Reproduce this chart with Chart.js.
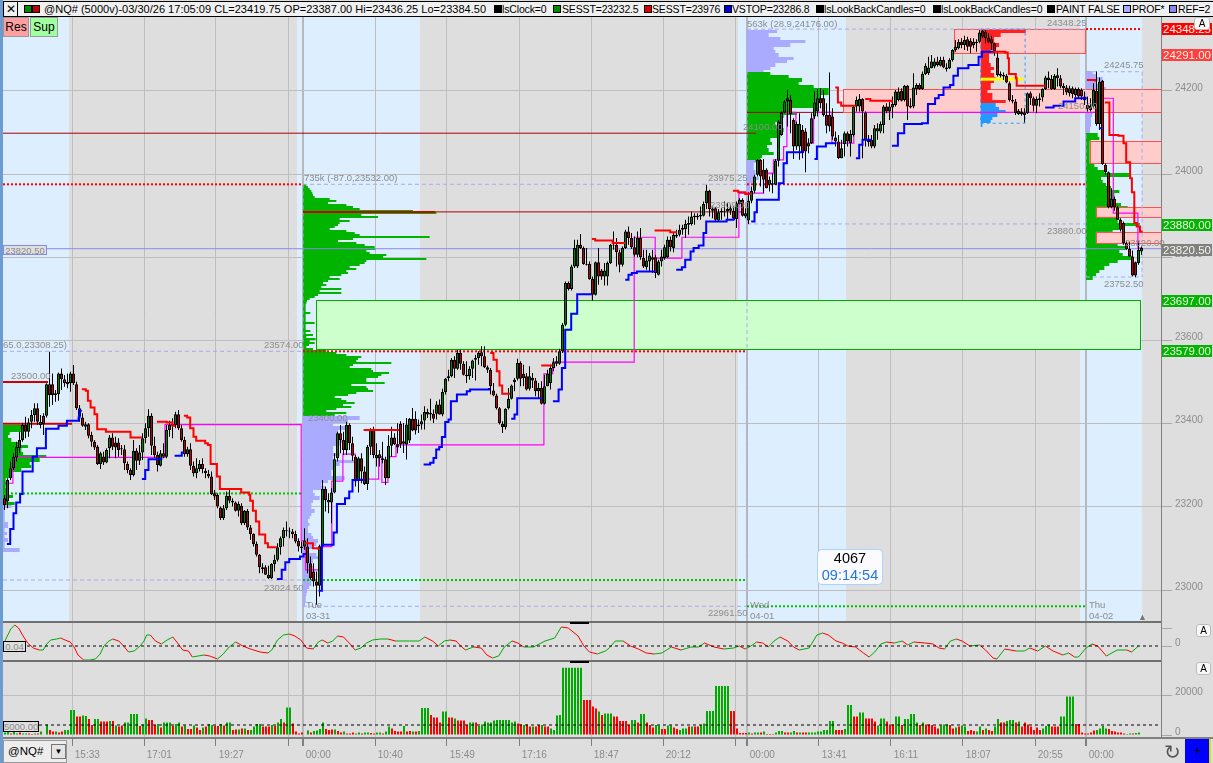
<!DOCTYPE html>
<html><head><meta charset="utf-8">
<style>
html,body{margin:0;padding:0;background:#DEDEDE;width:1213px;height:763px;overflow:hidden;font-family:"Liberation Sans",sans-serif}
canvas{position:absolute;left:0}
.t{position:absolute;white-space:nowrap}
.g{color:#8c8c8c;font-size:9.5px;transform:translateY(-50%);line-height:10px}
.b{position:absolute}
</style>
<script src="https://cdn.jsdelivr.net/npm/chart.js@4/dist/chart.umd.min.js"></script>
</head><body>
<canvas id="mainC" width="1213" height="605" style="top:17px"></canvas>
<canvas id="oscC" width="1213" height="38" style="top:623px"></canvas>
<canvas id="volC" width="1213" height="102" style="top:661px"></canvas>
<div id="ov"></div>
<script>
// ---------- candles ----------
const opens=[23221,23213,23269,23293,23319,23341,23361,23397,23381,23405,
23421,23437,23397,23419,23419,23495,23495,23469,23471,23521,
23507,23501,23497,23521,23495,23437,23415,23393,23399,23373,
23357,23345,23303,23321,23307,23341,23367,23355,23355,23341,
23339,23303,23289,23277,23335,23311,23331,23365,23389,23419,
23347,23325,23299,23329,23321,23385,23395,23397,23423,23389,
23361,23327,23339,23299,23281,23291,23303,23287,23279,23273,
23233,23229,23199,23173,23197,23227,23215,23211,23191,23203,
23161,23191,23151,23135,23111,23085,23051,23055,23037,23029,
23063,23073,23103,23125,23145,23143,23141,23135,23119,23101,
23105,23105,23065,23045,23021,23011,23105,23243,23217,23211,
23235,23317,23377,23361,23337,23397,23353,23321,23263,23317,
23285,23255,23345,23385,23317,23317,23317,23315,23269,23347,
23367,23351,
23400,23352,23350,23360,23412,23412,23394,23398,23408,23428,
23426,23424,23424,23446,23422,23476,23510,23514,23554,23532,
23570,23544,23518,23514,23532,23554,23558,23572,23562,23536,
23530,23480,23468,23437,23400,23392,23437,23460,23500,23508,
23546,23520,23514,23484,23510,23504,23478,23486,23448,23490,
23498,23534,23550,23544,23574,23638,23738,23724,23778,23778,
23830,23822,23784,23784,23748,23710,23788,23768,23754,23754,
23786,23830,23830,23812,23782,23822,23862,23846,23824,23806,
23846,23798,23776,23790,23800,23800,23758,23790,23798,23800,
23842,23822,23850,23854,23866,23868,23878,23880,23896,23900,
23902,23900,23930,23960,23917,23918,23888,23908,23912,23910,
23912,23912,23892,23928,23938,23898,23888,23936,23960,23998,
24034,24010,24010,23974,23978,23974,24032,24094,24148,24182,
24178,24130,24066,24066,24106,24102,24066,24074,24138,24150,
24182,24182,24142,24142,24138,24088,24078,24038,24072,24098,
24074,24094,24162,24162,24180,24148,24082,24082,24066,24102,
24102,24118,24162,24150,24160,24166,24178,24200,24178,24212,
24160,24162,24204,24214,24204,24240,24242,24254,24258,24270,
24260,24274,24256,24254,24274,24298,24302,24318,24310,24324,
24320,24310,24318,24318,24344,24342,24328,24324,24314,24280,
24236,24238,24236,24218,24174,24174,24144,24150,24148,24146,
24194,24182,24164,24178,24184,24204,24232,24228,24204,24237,
24230,24206,24208,24194,24206,24190,24204,24202,24186,24166,
24154,24162,24200,24120,24224,24022,24004,23920,23940,23920,
23890,23882,23834,23820,23802,23788,23786,23814];
const highs=[23229,23269,23309,23329,23357,23381,23401,23417,23413,23433,
23449,23449,23421,23425,23497,23573,23521,23481,23523,23533,
23517,23521,23525,23541,23501,23445,23425,23405,23401,23381,
23361,23349,23333,23333,23341,23373,23377,23369,23365,23349,
23349,23309,23293,23361,23341,23349,23377,23401,23435,23425,
23369,23333,23337,23353,23397,23407,23413,23429,23433,23397,
23369,23345,23353,23309,23317,23313,23317,23293,23289,23285,
23241,23233,23201,23205,23237,23241,23221,23213,23213,23209,
23193,23195,23157,23137,23117,23087,23065,23060,23059,23065,
23085,23113,23129,23151,23165,23151,23147,23143,23125,23117,
23149,23125,23081,23065,23045,23109,23265,23249,23233,23245,
23329,23381,23397,23381,23405,23401,23369,23325,23321,23329,
23297,23349,23389,23393,23353,23337,23357,23321,23373,23393,
23377,23401,
23406,23402,23414,23414,23438,23430,23410,23422,23442,23436,
23460,23434,23454,23458,23484,23510,23530,23558,23562,23578,
23578,23550,23550,23538,23554,23566,23574,23586,23586,23540,
23534,23498,23472,23440,23406,23437,23486,23494,23510,23556,
23550,23542,23522,23538,23522,23510,23498,23502,23518,23530,
23542,23558,23562,23580,23642,23742,23742,23782,23842,23842,
23856,23826,23822,23790,23754,23790,23822,23772,23786,23790,
23832,23862,23846,23818,23826,23866,23874,23858,23850,23862,
23870,23818,23818,23810,23818,23806,23794,23818,23830,23850,
23850,23858,23866,23878,23878,23890,23898,23910,23906,23906,
23922,23934,23974,23962,23922,23920,23916,23918,23934,23930,
23926,23922,23934,23942,23942,23918,23956,23970,23998,24036,
24036,24036,24014,23994,24002,24036,24130,24150,24178,24202,
24190,24134,24126,24146,24118,24110,24086,24146,24198,24204,
24206,24202,24170,24244,24158,24102,24094,24082,24102,24102,
24106,24166,24186,24192,24182,24150,24094,24094,24118,24122,
24126,24166,24170,24174,24186,24202,24208,24206,24214,24214,
24182,24242,24218,24218,24246,24266,24282,24286,24278,24282,
24282,24282,24266,24278,24300,24322,24324,24326,24332,24330,
24326,24326,24324,24346,24346,24346,24338,24332,24316,24294,
24246,24244,24240,24222,24190,24180,24156,24158,24158,24196,
24198,24186,24186,24194,24206,24236,24246,24238,24240,24254,
24238,24218,24214,24212,24210,24208,24208,24206,24198,24186,
24182,24218,24246,24232,24226,24026,24006,23966,23946,23924,
23894,23886,23838,23838,23816,23790,23838,23826];
const lows=[23193,23197,23265,23289,23309,23329,23357,23365,23369,23389,
23405,23397,23389,23373,23415,23441,23445,23453,23455,23481,
23489,23485,23477,23493,23433,23405,23393,23385,23365,23345,
23337,23301,23291,23301,23305,23317,23337,23317,23321,23325,
23289,23281,23265,23273,23289,23301,23313,23353,23369,23325,
23317,23285,23297,23317,23317,23369,23365,23389,23385,23357,
23321,23321,23289,23273,23269,23285,23281,23269,23269,23229,
23217,23197,23169,23169,23193,23209,23201,23189,23177,23157,
23157,23145,23121,23105,23081,23041,23041,23037,23027,23027,
23045,23069,23085,23105,23129,23125,23125,23113,23093,23089,
23097,23041,23025,23009,22965,22985,23101,23189,23185,23161,
23233,23309,23329,23325,23325,23337,23311,23249,23235,23257,
23253,23241,23325,23317,23297,23297,23305,23253,23269,23321,
23349,23329,
23342,23330,23314,23354,23382,23374,23378,23386,23386,23414,
23408,23402,23410,23422,23418,23470,23502,23512,23510,23530,
23530,23516,23498,23506,23510,23504,23542,23538,23534,23522,
23470,23466,23434,23398,23378,23386,23434,23458,23478,23504,
23490,23490,23480,23480,23486,23466,23462,23446,23446,23490,
23482,23526,23538,23542,23570,23634,23720,23720,23774,23774,
23820,23782,23780,23746,23696,23708,23734,23746,23732,23732,
23784,23818,23778,23764,23778,23820,23830,23820,23802,23800,
23794,23774,23770,23766,23762,23750,23756,23778,23794,23798,
23814,23812,23846,23850,23854,23846,23854,23876,23878,23890,
23890,23898,23916,23898,23894,23886,23886,23890,23898,23890,
23902,23890,23870,23926,23898,23894,23880,23930,23954,23994,
23970,23954,23966,23958,23954,23974,24018,24092,24146,24114,
24098,24036,24058,24034,24038,24004,24050,24072,24132,24138,
24158,24138,24098,24102,24082,24066,24036,24038,24042,24066,
24042,24090,24150,24150,24038,24066,24066,24062,24062,24082,
24098,24098,24146,24130,24134,24162,24174,24174,24174,24130,
24158,24158,24190,24202,24202,24238,24238,24254,24254,24258,
24258,24254,24246,24252,24270,24294,24300,24302,24298,24296,
24290,24302,24294,24314,24326,24314,24314,24298,24284,24234,
24232,24226,24218,24174,24170,24142,24142,24140,24124,24144,
24166,24150,24146,24162,24174,24202,24206,24202,24202,24210,
24206,24190,24190,24186,24182,24184,24182,24178,24166,24150,
24150,24158,24116,24106,24022,23998,23918,23918,23912,23890,
23862,23830,23818,23800,23754,23752,23782,23806];
const closes=[23205,23265,23293,23321,23345,23361,23397,23381,23403,23421,
23437,23405,23405,23399,23495,23469,23469,23473,23521,23507,
23497,23495,23521,23497,23437,23417,23395,23399,23371,23357,
23343,23303,23329,23307,23337,23367,23345,23343,23337,23339,
23305,23289,23277,23335,23311,23331,23365,23389,23419,23347,
23325,23301,23329,23321,23385,23397,23399,23423,23389,23361,
23327,23339,23299,23281,23293,23303,23291,23281,23273,23231,
23225,23201,23173,23197,23227,23215,23211,23191,23207,23161,
23191,23151,23135,23111,23085,23055,23055,23037,23029,23063,
23073,23103,23125,23145,23143,23141,23135,23117,23105,23105,
23119,23065,23029,23021,23011,23105,23243,23217,23211,23235,
23315,23377,23361,23337,23397,23353,23323,23261,23317,23285,
23255,23345,23385,23325,23325,23327,23313,23269,23347,23367,
23351,23343,
23350,23358,23398,23412,23384,23384,23398,23406,23428,23422,
23422,23412,23446,23422,23476,23508,23514,23554,23532,23570,
23544,23518,23514,23532,23552,23558,23570,23562,23536,23530,
23490,23468,23437,23402,23392,23436,23460,23492,23506,23546,
23508,23510,23482,23514,23504,23478,23486,23448,23490,23520,
23534,23548,23544,23574,23638,23738,23724,23778,23822,23830,
23822,23784,23782,23748,23710,23788,23754,23754,23768,23786,
23830,23828,23812,23782,23822,23862,23846,23824,23806,23846,
23800,23778,23792,23804,23794,23762,23790,23802,23824,23842,
23824,23854,23854,23866,23870,23880,23882,23898,23900,23896,
23898,23928,23960,23916,23912,23890,23908,23912,23910,23916,
23918,23894,23930,23938,23900,23906,23936,23960,23994,24034,
23994,23986,23966,23986,23974,24032,24126,24148,24174,24174,
24144,24066,24120,24120,24050,24054,24074,24134,24172,24182,
24170,24142,24116,24114,24090,24078,24038,24062,24098,24078,
24096,24162,24178,24180,24150,24082,24076,24066,24110,24110,
24120,24162,24150,24162,24168,24198,24198,24176,24212,24162,
24164,24208,24214,24204,24240,24260,24256,24270,24270,24262,
24274,24256,24252,24274,24298,24306,24318,24310,24322,24306,
24306,24318,24314,24340,24330,24326,24318,24314,24294,24238,
24240,24234,24220,24178,24178,24146,24152,24144,24142,24194,
24182,24164,24180,24182,24204,24232,24226,24204,24236,24230,
24210,24212,24196,24206,24192,24204,24186,24186,24178,24156,
24164,24202,24120,24222,24024,24004,23920,23940,23920,23890,
23866,23834,23820,23802,23756,23756,23818,23822];
// ---------- volume ----------
const volumes=[1300,1700,800,2000,800,1200,800,800,800,500,
800,800,1700,300,5300,2500,1700,1700,1200,1700,
2500,2500,12500,12500,9200,9200,9700,9500,8000,5000,
8000,8000,6700,6700,6700,7000,7000,4700,4200,4700,
6200,6300,10500,10500,10500,4500,5300,8300,7500,7500,
5000,5500,3700,6200,6200,6200,4500,5500,6200,4200,
4700,3000,3000,4700,3700,2500,3700,4200,5500,5000,
4500,4500,5500,4700,6200,6200,2500,2800,2800,3300,
3300,2500,2500,4200,5500,5500,4200,4200,4200,5000,
4500,6200,8000,6200,13700,13700,5800,1700,800,1200,
300,2300,1200,2000,2200,3000,6300,3000,2500,2800,
2800,2000,1300,1700,800,800,1200,800,1200,800,
1200,1300,1000,800,1200,1200,800,1700,4200,3300,
2000,1700,1700,4500,1700,2000,1800,1700,2000,13500,
13500,13500,10000,8700,8700,6200,11700,11700,8700,8700,
8300,7200,7200,7200,5000,6300,6300,6200,4500,5300,
6700,6300,6300,7300,7500,7500,7500,7500,7500,6300,
6700,5800,5300,5000,5300,4200,4200,4200,5000,5000,
4200,4200,3300,2500,9700,10000,33600,33600,33600,33600,
33600,33600,33600,17500,17500,17500,14200,13300,11700,10000,
10800,10800,10800,9200,9200,7000,7000,7000,5000,7500,7500,
6300,10500,10500,6200,5000,3700,5000,4700,3000,3000,
4700,4700,3700,3000,2500,3300,3300,4200,4200,4200,
4200,5000,5800,12000,12000,12000,24500,24500,24500,24500,
24500,12000,12000,3300,1000,1000,1000,1300,700,1200,
1200,1200,1700,500,500,500,1300,2000,2000,1200,
1200,1300,2000,1300,1300,1200,1200,1300,1300,1300,
1700,1700,2500,2500,7000,7000,2500,2500,2500,3000,
15000,15000,9200,9200,11300,11300,8300,8300,8300,6700,
4700,8300,8300,6700,5300,5300,9200,9200,5000,8000,
8000,10500,10500,6300,5000,6300,5300,5300,5000,4200,
3300,4700,5300,5300,5000,3300,3700,4200,4700,4200,2000,
2500,2000,1700,4200,2500,3300,2500,2000,4200,8000,
6200,6200,7000,7500,7500,6300,6700,4200,6300,5300,
4200,2500,3700,2500,3300,4500,5300,4200,4200,4200,
9200,9200,19200,19200,19200,5500,5500,1300,800,700,
1200,2200,2500,3300,4500,3300,3000,2000,1700,1200,
1300,800,500,700,700,1000,1200,300];
const volumeDir=("ggrggrggrr"+"grgrgrrgrr"+"ggggrrggrr"+"ggrrrgrgrr"+"gggggrggrr"+"rgrgggrggr"+"grrgrrgrgg"+"rrgrggrrgr"+"grggggrrrg"+"rggrggrrrr"+
"rgrggggrrr"+"grrgrrrggr"+"ggrrggrggr"+"rrrgrrgrgg"+"ggrrrrggrr"+"grrrrggrgg"+"gggggggggg"+"grrgrrgrrg"+"rrgggggggg"+"gggrrrrrgr"+
"gggrrrrrrgg"+"rggrrrggrr"+"ggrrgggrgr"+"rggggggggg"+"grrrrrrgrg"+"grgrrrgggr"+"rggrgrrggg"+"ggggggrrrg"+"ggrrggrrrr"+"gggrrrggrg"+
"ggggrgrrrr"+"rgggrrgrggr"+"rrggrgrrgg"+"rrgggrgrrr"+"rrrrgggrrr"+"gggggrrrrr"+"rrggggrrrr"+"rrggrggr");
// ---------- oscillator ----------
const oscBars=[0,1.1,2.6,3.9,5.2,6.5,8.2,10.1,12.1,13.4,14.6,15.9,17.9,19.2,20.7,22.4,23.7,25,26.9,28.9,30.8,32.4,33.6,35.3,36.6,38.6,40.5,41.8,43.7,45.7,47,47.9,49.1,50.8,52.8,54.7,56.6,58.2,59.9,61.8,63.1,65,67,68.9,71.5,73.4,75.4,77.6,79.9,82.5,85.7,88.3,89.6,91.5,93.5,95.4,97.3,99.3,101.2,103.4,105.1,106.4,108.3,109.9,111.5,113.5,115.4,117.4,119.3,121.2,123.2,125.8,128.3,130.9,135.5,138.7,140.6,143.2,145.1,147.1,149,151,152.9,154.2,156.8,159.4,161.3,163.2,165.2,167.1,169.7,171.6,173.6,176.8,180.7,183.9,186.1,188.4,191.7,193.6,195.5,198.1,200.8,202.1,204.1,206.7,209.2,211.8,214.4,217,219.6,222.8,226,229.3,231.9,233.8,237,240.3,243.5,245.4,247.4,249.3,251.2,253.2,255.1,257,259,261.6,263.5,265.4,268.7,271.3,273.2,275.1,277.7,279.7,281.6,284.2,286.8,288.7,290.6,292.6,294.5,297.1,299.7,301.6,303.6,307.4,310,312,313.9,315.8,317.8,319.7,322.3,325.5,327.5,330,331.3,333.9,337.8,340.4,342.3,344.9,347.5,350,353.3,355.2,357.2,358.5,361,363,364.9,367.8,371.4,374.6,376.2,378.5];
const oscValues=[0,.08,.17,.21,.18,.11,.03,-.02,-.04,-.04,.02,.06,.07,.08,.06,.04,-.01,-.09,-.14,-.14,-.13,-.08,0,.05,.07,.05,-.01,-.06,-.05,0,.05,.11,.11,.05,.02,.06,.09,.03,-.04,-.05,-.11,-.10,-.09,-.10,-.13,-.08,-.01,.04,0,-.03,-.06,-.07,-.04,.06,.11,.12,.10,.06,-.02,-.03,.04,.06,.03,.05,.10,.09,.03,-.04,-.02,.03,.06,.07,.07,.05,.05,.05,.09,.05,0,.05,.06,.05,-.01,-.04,-.01,-.02,-.09,-.12,-.10,-.01,.05,.03,-.01,-.01,.05,.08,.19,.18,.10,0,-.06,-.08,-.05,-.02,.05,.05,0,-.03,-.07,-.08,-.07,-.01,-.04,-.01,-.01,.03,-.01,-.03,-.02,0,-.03,0,.04,.03,-.01,.05,.09,.05,-.01,-.04,-.02,.11,.13,.11,.05,.03,0,-.01,-.07,-.11,-.06,.02,.04,.03,.05,.01,.04,.03,.02,-.02,-.03,.05,.07,.05,0,.01,-.04,-.12,-.13,-.03,-.05,-.05,-.02,-.05,0,-.05,-.09,-.07,-.11,-.11,-.02,.02,0,-.10,-.04,-.04,-.06,0];
// ---------- axes ----------
const priceTicks=[24200,24000,23800,23600,23400,23200,23000];
const gridBars=[23,47,71,95,100,124,148,172,196,220,244,248,272,296,320,344,361];
const timeLabels=["15:33","17:01","19:27","","00:00","10:40","15:49","17:16","18:47","20:12","","00:00","13:41","16:11","18:07","20:55","00:00"];
const sessionBars=[100,248,361];
const sessionBands=[[0,22],[98,139],[245,281],[359,379.7]];
// ---------- stop lines ----------
const redStopSegments=[
[[26.3,23483],[27.6,23479],[28.3,23455],[29.2,23439],[30.5,23423],[31.4,23387],[34.3,23381],[42.5,23367],[46.3,23367]],
[[51.3,23405],[54.6,23403],[56.5,23395],[57.4,23395]],
[[60.3,23419],[61.4,23415],[62.4,23389],[63.5,23369],[64.4,23359],[67.4,23353],[68.3,23349],[69.2,23303],[71.3,23273],[72.3,23243],[79.4,23235],[82.1,23229],[82.4,23215],[83.3,23191],[84.3,23165],[85.4,23134],[87.4,23113],[88.3,23103],[91.3,23103]],
[[100.7,23113],[103.3,23101],[105.2,23097]],
[[120.2,23385],[132,23385]],
[[162.4,23570],[163.5,23554],[164.6,23526],[165.5,23492],[166.4,23472],[169.1,23472]],
[[179.4,23540],[183.2,23540]],
[[196.3,23844],[197.4,23840],[203.2,23834],[207.4,23834]],
[[217.2,23864],[222.4,23860],[224.4,23858]],
[[243.3,23960],[245.1,23956],[247.4,23952],[249.6,23952]],
[[277.4,24208],[278.3,24172],[279.4,24164],[284.3,24164]],
[[287.4,24180],[289.1,24176],[296.3,24172]],
[[330,24294],[334.1,24292],[334.9,24278],[335.3,24240],[337.6,24230],[337.9,24212],[347.4,24210]],
[[361.3,24226],[364,24222]],
[[367.3,24172],[368.8,24094],[371.8,24092],[373.5,24074],[374.4,24028],[375.7,23990],[376.3,23956],[377.1,23882],[377.9,23874],[379,23862],[379.9,23862]]];
const vstopSegments=[
[[1.3,23111],[2.4,23147],[3.5,23185],[4.4,23211],[5.7,23231],[6.5,23285],[9.9,23321],[11.3,23341],[14.3,23388],[18.5,23395],[21.3,23407],[25.2,23415],[25.5,23431],[26.3,23431]],
[[46.3,23267],[47.4,23289],[48.5,23315],[53.1,23315]],
[[57.2,23323],[59.6,23331],[60.3,23331]],
[[91.3,23027],[92.9,23049],[94.1,23067],[95.4,23075],[99,23081],[100.2,23087],[101,23087]],
[[105.2,22999],[106.3,23109],[110.2,23139],[111.3,23207],[114,23221],[115.4,23237],[116.5,23265],[120.7,23265]],
[[140.2,23302],[142.4,23306],[143.5,23318],[144.4,23338],[145.4,23344],[146.3,23368],[147.4,23404],[148.5,23410],[149.3,23454],[151.3,23470],[154.6,23478],[155.7,23482],[162,23486]],
[[169.4,23412],[170.5,23422],[171.4,23461],[179.6,23461]],
[[183.3,23454],[185.2,23482],[186.3,23534],[187.4,23626],[189.4,23664],[191.4,23711],[196.3,23711]],
[[207.4,23746],[208.5,23758],[209.6,23762],[211.3,23766],[217.4,23766]],
[[224.4,23770],[226.3,23776],[227.4,23794],[229.2,23814],[230.2,23822],[231.9,23828],[233.5,23858],[234.4,23886],[241.2,23890],[243.5,23892],[244,23892]],
[[249.4,23886],[250.5,23908],[251.3,23938],[258.6,23978],[260.2,24026],[261.3,24052],[266.3,24054],[267,24054]],
[[270.5,24036],[271.3,24066],[274.3,24074],[277.4,24076]],
[[284.3,24038],[285.4,24070],[286.5,24082],[289.6,24082]],
[[296.3,24068],[298.3,24098],[300.4,24120],[306.3,24122],[308.3,24168],[310.7,24182],[311.9,24190],[313.5,24208],[315.7,24214],[316.8,24236],[318.3,24254],[321.8,24262],[325.2,24282],[326.3,24294],[330.5,24294]],
[[347.4,24160],[350.2,24164],[353.5,24174],[357.4,24182],[361.3,24182]],
[[365.3,24110],[366.4,24110]]];
const pocSteps=[[0.5,23257],[3.3,23293],[4,23319],[54,23398],[99.4,23119],[100.9,23049],[105.2,23105],[109.6,23262],[113.3,23327],[117.4,23267],[125.2,23321],[126.3,23259],[128.3,23321],[131,23349],[180.3,23520],[183.2,23548],[210.4,23848],[217.4,23798],[226.3,23848],[245.3,23954],[253.5,24002],[256.8,24034],[260.2,24066],[261.3,24148],[264.3,24098],[266.3,24074],[270.2,24148],[276.3,24074],[283.6,24148],[366.2,24182],[370.1,23906],[378.3,23822],[379.5,23822]];
// ---------- levels: [fromBar,toBar,price] ----------
const dottedRedLevels=[[0,100,23975.25],[248,361,23975.25],[100,248,23574],[361,379.7,24348.25]];
const dottedGreenLevels=[[0,100,23232.5],[100,248,23024.5],[248,361,22961.5],[361,379.7,23880]];
const dashedLavLevels=[[0,100,23574],[0,100,23024.5],[100,248,23975.25],[100,248,22961.5],[248,361,24348.25],[248,361,23880],[361,379.7,24245.75],[361,379.7,23752.5]];
const dashedLavVerticals=[[100,23975.25,22961.5],[248,24348.25,22961.5],[361,24245.75,23752.5],[379.7,24245.75,23752.5]];
const thinRedLevels=[[0,251,24098],[144,247,23909],[248,280,24148]];
const thickRedLevels=[[0,15,23500],[0,23,23400],[100,144,23909]];
const lastPrice=23820.5;
// ---------- zones ----------
const supplyZones=[[317,360.8,24348.25,24291],[280,386,24204,24148],[362.2,386,24080,24026],[364.3,386,23921,23897],[364.3,386,23861,23834]];
const demandZones=[[104.2,379,23697,23579]];
// ---------- volume profiles ----------
const profileTue=[10,15,20,25,28,30,35,80,100,75,130,150,170,330,400,175,225,110,140,110,105,95,80,130,155,170,380,150,105,160,185,215,217,190,200,250,240,370,190,185,170,140,160,130,135,115,80,110,75,60,70,55,115,50,115,45,35,20,12,10,8,8,8,8,22,8,8,8,8,35,8,8,8,22,8,30,10,55,20,35,18,10,30,70,100,130,175,165,160,265,150,140,205,210,258,235,225,190,190,245,145,190,195,210,160,135,95,115,130,155,120,145,100,70,130,95,110];
const profileTueLow=[170,135,90,135,105,100,100,125,110,90,90,110,90,160,110,95,85,85,125,75,55,65,30,35,50,30,25,25,35,25,20,15,20,15,15,25,30,45,40,30,15,40,45,30,25,30,35,30,20,25,25,18,12,10,8,8,6];
const profileMonHi=[65,55,20,15,25,50,75,55,60,130,110,80,85,55,25,20,8,15,8,15,10,30,15,35];
const profileMonLow=[25,5,5,5,5,15,15,5,12,5,15,5,5,50];
const profileWedTop=[90,65,100,175,130,80,85,95,140,120,85,70,50];
const profileWedMid=[70,125,165,155,200,245,245,220,230,210,200,130,150,110,100,85,90,110,105,100,70,75,60,65,80,45,40];
const profileWedLow=[25,20,20,25,25,35,20,10,10,8];
const profileThuTop=[20,30,50,30,40,60,130,145,105,100,60,30,20,18,15,15,15,12,12];
const profileThuMid=[35,40,15,15,30,25,30,25,30,25,35,55,130,45,50,60,75,100,85,85,90,105,125,80,100,100,95,160,100,80,40,45,60,95,120,100,110,140,95,70,55,40,30,20];
const profileHotRed=[135,60,40,40,55,40,30,25,25,25,30,40,30,40,45,40,30,30,20,35,35,75];
const profileHotBlue=[45,55,75,50,35,30,5];
const yellowLevel=[325.9,340,24229];
const compositeBox=[325.9,340.7,24348.25,24122];
// ---------- text ----------
const headerText="@NQ# (5000v)-03/30/26 17:05:09 CL=23419.75 OP=23387.00 Hi=23436.25 Lo=23384.50";
const legendItems=[[494,"#000","lsClock=0",502],[553,"#008800","SESST=23232.5",562],[644,"#DD0000","SESST=23976",652],[724,"#0000DD","VSTOP=23286.8",732],[816,"#000","lsLookBackCandles=0",824],[933,"#000","lsLookBackCandles=0",941],[1047,"#000","PAINT FALSE",1056],[1123,"#AAAAFF","PROF*",1132],[1169,"#8888EE","REF=2",1178]];
const grayLabels=[[304,178,"735k (-87.0,23532.00)"],[747,24,"563k (28.9,24176.00)"],[3,345,"65.0,23308.25)"],[264,345,"23574.00"],[11,376,"23500.00"],[308,418,"23400.00"],[264,588,"23024.50"],[708,613,"22961.50"],[708,178,"23975.25"],[1047,23,"24348.25"],[1104,65,"24245.75"],[1047,231,"23880.00"],[1104,284,"23752.50"],[1058,106,"24150.00"],[743,127,"24100.00"],[710,205,"23909.00"],[1125,243,"23820.00"],[306,605,"Tue"],[306,616,"03-31"],[750,605,"Wed"],[750,616,"04-01"],[1089,605,"Thu"],[1089,616,"04-02"]];
const priceFlags=[[23,"24348.25","#FF0000"],[49,"24291.00","#FF4040"],[219,"23880.00","#00B400"],[244,"23820.50","#808080"],[295,"23697.00","#00B400"],[345,"23579.00","#00B400"]];

const PROFILE_UNIT=1/9, XMAX=386;
const GREEN_P="#00B400", LAV="#AAAAFF";

function rowsDraw(c,xs,ys,base,top,step,vals,col){
  c.fillStyle=col;
  vals.forEach((v,i)=>{
    const y0=ys.getPixelForValue(top-i*step), y1=ys.getPixelForValue(top-(i+1)*step);
    const x0=xs.getPixelForValue(base), x1=xs.getPixelForValue(base+v*PROFILE_UNIT);
    c.fillRect(x0,Math.round(y0),x1-x0,Math.max(1,Math.round(y1)-Math.round(y0)));
  });
}
const bandPlugin={id:"bands",beforeDraw(ch){
  const {ctx:c,chartArea:a,scales:{x}}=ch;
  c.save();c.fillStyle="#DEDEDE";c.fillRect(a.left,a.top,a.right-a.left,a.bottom-a.top);
  if(ch.canvas.id==="mainC"){c.fillStyle="#DDEEFF";
    sessionBands.forEach(b=>{const l=x.getPixelForValue(b[0]),r=x.getPixelForValue(b[1]);c.fillRect(l,a.top,r-l,a.bottom-a.top);});}
  c.restore();
}};
const zonePlugin={id:"zones",beforeDatasetsDraw(ch){
  if(ch.canvas.id!=="mainC")return;
  const {ctx:c,scales:{x,y}}=ch;
  c.save();
  const box=(b,f,s)=>{const l=x.getPixelForValue(b[0]),r=x.getPixelForValue(b[1]),t=y.getPixelForValue(b[2]),bt=y.getPixelForValue(b[3]);
    c.fillStyle=f;c.fillRect(l,t,r-l,bt-t);c.strokeStyle=s;c.lineWidth=1;c.strokeRect(Math.round(l)+.5,Math.round(t)+.5,Math.round(r-l),Math.round(bt-t));};
  rowsDraw(c,x,y,100,23975.25,4.8,profileTue,GREEN_P);
  rowsDraw(c,x,y,100,23418,8,profileTueLow,LAV);
  rowsDraw(c,x,y,0,23397,8,profileMonHi,GREEN_P);
  rowsDraw(c,x,y,0,23205,8,profileMonLow,LAV);
  rowsDraw(c,x,y,248,24346,8,profileWedTop,LAV);
  rowsDraw(c,x,y,248,24246,8,profileWedMid,GREEN_P);
  rowsDraw(c,x,y,248,24034,8,profileWedLow,LAV);
  rowsDraw(c,x,y,361,24248,8,profileThuTop,LAV);
  rowsDraw(c,x,y,361,24098,8,profileThuMid,GREEN_P);
  demandZones.forEach(b=>box(b,"#CCFFCC","#00AA00"));
  supplyZones.forEach(b=>box(b,"#FFCCCC","#FF5050"));
  rowsDraw(c,x,y,325.9,24346,8,profileHotRed,"#FF2020");
  rowsDraw(c,x,y,325.9,24170,8,profileHotBlue,"#2299FF");
  c.fillStyle="#FFFF00";
  const yl=y.getPixelForValue(yellowLevel[2]);
  c.fillRect(x.getPixelForValue(yellowLevel[0]),yl-1,x.getPixelForValue(yellowLevel[1])-x.getPixelForValue(yellowLevel[0]),3);
  c.strokeStyle="#3399FF";c.setLineDash([3,3]);c.lineWidth=1;
  const cl=x.getPixelForValue(compositeBox[0]),cr=x.getPixelForValue(compositeBox[1]),ct=y.getPixelForValue(compositeBox[2]),cb=y.getPixelForValue(compositeBox[3]);
  c.strokeRect(cl,ct,cr-cl,cb-ct);
  c.restore();
}};
const zeroPad=s=>{s.paddingTop=0;s.paddingBottom=0;s.paddingLeft=0;s.paddingRight=0;s._margins={left:0,right:0,top:0,bottom:0};};
const seg=(pts,col,w,order,extra)=>Object.assign({type:"line",data:pts.map(p=>({x:p[0],y:p[1]})),borderColor:col,borderWidth:w,pointRadius:0,order,tension:0,fill:false},extra||{});
const lvl=(l,col,w,order,dash)=>seg([[l[0],l[2]],[l[1],l[2]]],col,w,order,dash?{borderDash:dash}:{});
const xScale=(show)=>({type:"linear",min:0,max:XMAX,offset:false,
  afterBuildTicks(s){s.ticks=gridBars.map(v=>({value:v}));},
  grid:{offset:false,drawTicks:show,tickLength:8,tickColor:"#808080",
    color:c=>sessionBars.includes(c.tick&&c.tick.value)?"#B8B8B8":"#BEBEBE",
    lineWidth:c=>sessionBars.includes(c.tick&&c.tick.value)?2:1},
  border:{display:false},
  afterFit(s){s.height=show?25:0;zeroPad(s);},
  ticks:{display:show,autoSkip:false,maxRotation:0,minRotation:0,align:"start",padding:3,color:"#8c8c8c",font:{family:"Liberation Sans",size:10},
    callback:(v,i)=>"\u00a0"+timeLabels[i]}});
const yScale=(min,max,vals,fmt,gridOn)=>({type:"linear",position:"right",min,max,
  afterBuildTicks(s){s.ticks=vals.map(v=>({value:v}));},
  afterFit(s){s.width=52;zeroPad(s);},
  border:{display:false},
  grid:{drawOnChartArea:!!gridOn,tickLength:11,tickColor:"#A8A8A8",color:c=>(c.tick&&c.tick.value===0&&gridOn==="vol")?"transparent":"#BEBEBE"},
  ticks:{padding:3,labelOffset:-3,color:"#8c8c8c",font:{family:"Liberation Sans",size:10},callback:fmt}});
const baseOpts=()=>({responsive:false,animation:false,events:[],maintainAspectRatio:false,
  layout:{autoPadding:false,padding:{left:3,right:0,top:0,bottom:0}},
  plugins:{legend:{display:false},tooltip:{enabled:false}}});

// main chart
const mainDS=[];
const cols=closes.map((c,i)=>c>=opens[i]?"#008000":"#C00000");
mainDS.push({type:"bar",data:closes.map((c,i)=>({x:i+.5,y:[opens[i],c]})),backgroundColor:cols,borderColor:"#000",borderWidth:1,borderSkipped:false,barThickness:3,grouped:false,inflateAmount:0,order:4});
mainDS.push({type:"bar",data:closes.map((c,i)=>({x:i+.5,y:[lows[i],highs[i]]})),backgroundColor:"#000",borderWidth:0,barThickness:1,grouped:false,inflateAmount:0,order:5});
redStopSegments.forEach(s=>mainDS.push(seg(s,"#FF0000",2,3,{stepped:true})));
vstopSegments.forEach(s=>mainDS.push(seg(s,"#0000FF",2,3,{stepped:true})));
mainDS.push(seg(pocSteps,"#FF00FF",1.2,6,{stepped:true}));
thinRedLevels.forEach(l=>mainDS.push(lvl(l,"#A80000",1,7)));
thickRedLevels.forEach(l=>mainDS.push(lvl(l,"#D00000",2,7)));
dottedRedLevels.forEach(l=>mainDS.push(lvl(l,"#FF0000",2,8,[2,2])));
dottedGreenLevels.forEach(l=>mainDS.push(lvl(l,"#00C000",2,8,[2,2])));
dashedLavLevels.forEach(l=>mainDS.push(lvl(l,"#AAAAEE",1,9,[4,3])));
dashedLavVerticals.forEach(v=>mainDS.push(seg([[v[0],v[1]],[v[0],v[2]]],"#AAAAEE",1,9,{borderDash:[4,3]})));
mainDS.push(lvl([0,XMAX,lastPrice],"#8888EE",1,7));
new Chart(document.getElementById("mainC"),{type:"bar",data:{datasets:mainDS},plugins:[bandPlugin,zonePlugin],options:Object.assign(baseOpts(),{
  scales:{x:xScale(false),y:yScale(22923.7,24377.2,priceTicks,v=>String(v),true)}})});

// oscillator
const oscDS=[seg(oscBars.map((b,i)=>[b,oscValues[i]]),"#00AA00",1,2,{segment:{borderColor:c=>c.p1.parsed.y>=c.p0.parsed.y?"#00AA00":"#FF0000"}}),
  lvl([0,XMAX,0],"#000",1.2,1,[3,3])];
new Chart(document.getElementById("oscC"),{type:"line",data:{datasets:oscDS},plugins:[bandPlugin],options:Object.assign(baseOpts(),{
  scales:{x:xScale(false),y:yScale(-.15,.23,[.18,0],v=>v===0?"0":"",false)}})});

// volume
const volCols=volumes.map((v,i)=>volumeDir[i]==="g"?"#00AA00":"#FF0000");
const volDS=[lvl([0,XMAX,5000],"#000",1.2,1,[3,3]),
  {type:"bar",data:volumes.map((v,i)=>({x:i+2/3,y:v})),backgroundColor:volCols,barThickness:2,borderWidth:0,grouped:false,inflateAmount:0,order:2}];
new Chart(document.getElementById("volC"),{type:"bar",data:{datasets:volDS},plugins:[bandPlugin],options:Object.assign(baseOpts(),{
  scales:{x:xScale(true),y:yScale(-1500,37000,[20000,0],v=>String(v),"vol")}})});

// overlay
const ov=document.getElementById("ov");
function el(cls,st,txt){const d=document.createElement("div");d.className=cls;d.style.cssText=st;if(txt!==undefined)d.textContent=txt;ov.appendChild(d);return d;}
el("b","left:0;top:0;width:3px;height:763px;background:#6C9BD0");
el("b","left:3px;top:1px;width:1210px;height:14px;background:#F0F0F0;border-top:1px solid #000;border-bottom:1px solid #000");
el("b","left:3px;top:1px;width:13px;height:14px;border:1px solid #000;background:#F0F0F0;text-align:center;font-size:12px;line-height:14px","✕");
el("b","left:24px;top:5px;width:6px;height:6px;background:#008800;border:1px solid #000");
el("b","left:32px;top:5px;width:6px;height:6px;background:#BB0000;border:1px solid #000");
el("t","left:44px;top:2px;font-size:11px;line-height:14px;color:#000;letter-spacing:.02px",headerText);
legendItems.forEach(l=>{
  el("b",`left:${l[0]}px;top:5px;width:6px;height:6px;background:${l[1]};border:1px solid #000`);
  el("t",`left:${l[3]}px;top:2px;font-size:10.5px;line-height:14px;color:#000;letter-spacing:-.15px`,l[2]);
});
el("b","left:3px;top:17px;width:26px;height:20px;background:#FFA0A0;border:1px solid #999;box-sizing:border-box;font-size:12px;text-align:center;line-height:19px","Res");
el("b","left:30px;top:17px;width:28px;height:20px;background:#A0FFA0;border:1px solid #999;box-sizing:border-box;font-size:12px;text-align:center;line-height:19px","Sup");
grayLabels.forEach(g=>el("t g",`left:${g[0]}px;top:${g[1]}px`,g[2]));
el("b","left:3px;top:245px;width:44px;height:10px;background:#DEDEDE;border:1px solid #8888EE;box-sizing:border-box;font-size:9.5px;line-height:9px;color:#8c8c8c;text-align:center","23820.50");
el("b","left:3px;top:641px;width:23px;height:11px;background:#DEDEDE;border:1px solid #000;box-sizing:border-box;font-size:9.5px;line-height:9px;color:#8c8c8c;text-align:center","0.04");
el("b","left:3px;top:721px;width:36px;height:11px;background:#DEDEDE;border:1px solid #000;box-sizing:border-box;font-size:9.5px;line-height:9px;color:#8c8c8c;text-align:center","5000.00");
el("b","left:1161px;top:17px;width:1px;height:721px;background:#808080");
priceFlags.forEach(f=>el("b",`left:1162px;top:${f[0]}px;width:50px;height:12px;background:${f[2]};color:#F4F4E8;font-size:11.5px;line-height:12px;text-align:center`,f[1]));
el("b","left:1194px;top:17px;width:16px;height:13px;background:#F8F8F8;border:1px solid #BBB;border-radius:3px;box-sizing:border-box;font-size:10px;line-height:11px;text-align:center","A");
el("b","left:1196px;top:624px;width:15px;height:13px;background:#F8F8F8;border:1px solid #BBB;border-radius:3px;box-sizing:border-box;font-size:10px;line-height:11px;text-align:center","A");
el("b","left:1196px;top:662px;width:15px;height:13px;background:#F8F8F8;border:1px solid #BBB;border-radius:3px;box-sizing:border-box;font-size:10px;line-height:11px;text-align:center","A");
el("b","left:3px;top:621px;width:1158px;height:2px;background:#707070");
el("b","left:3px;top:660px;width:1158px;height:2px;background:#707070");
el("b","left:3px;top:737px;width:1210px;height:2px;background:#808080");
el("b","left:570px;top:622px;width:19px;height:2px;background:#000");
el("b","left:570px;top:661px;width:19px;height:2px;background:#000");
el("t","left:1138px;top:612px;font-size:9px;color:#777","▲");
// clock
const ck=el("b","left:817px;top:549px;width:66px;height:36px;background:#FAFAFF;border:1px solid #AAD4FF;border-radius:5px;box-sizing:border-box;text-align:center");
ck.innerHTML='<div style="font-size:14.5px;line-height:17px;color:#000">4067</div><div style="font-size:14.5px;line-height:17px;color:#2277DD">09:14:54</div>';
// bottom strip
el("b","left:3px;top:740px;width:64px;height:23px;background:#EDEDED;border:1px solid #999;box-sizing:border-box");
el("t","left:8px;top:745px;font-size:11.5px;color:#000","@NQ#");
el("b","left:51px;top:744px;width:15px;height:15px;background:#E4E4E4;border:1px solid #777;box-sizing:border-box;font-size:8px;text-align:center;line-height:13px","▼");
el("t","left:1164px;top:742px;font-size:20px;color:#555;line-height:20px","↻");
el("b","left:1185px;top:739px;width:24px;height:24px;background:#0000FF;border-right:2px solid #DDDD00;box-sizing:content-box;color:#000;font-size:13px;text-align:center;line-height:24px","+");
</script>
</body></html>
